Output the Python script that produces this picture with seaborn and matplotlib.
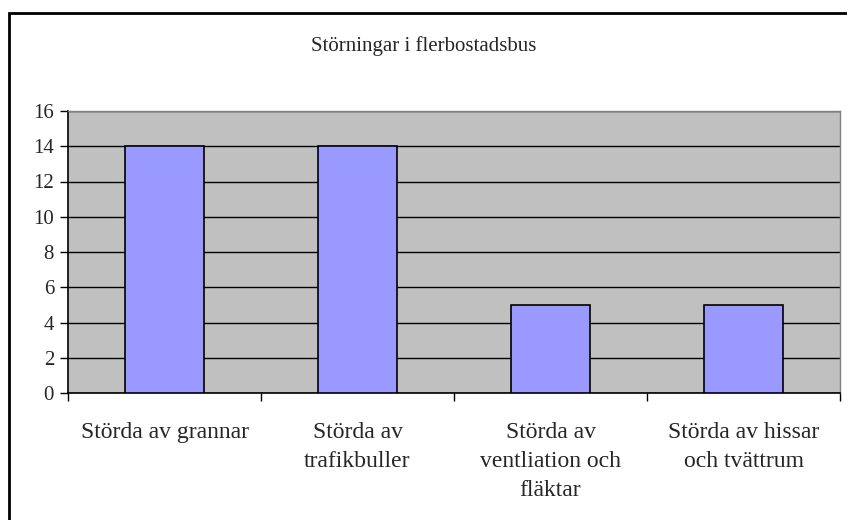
#!/usr/bin/env python3
import numpy as np
import pandas as pd
import seaborn as sns
import matplotlib.pyplot as plt
from matplotlib.patches import Rectangle

# chart data
title = 'Störningar i flerbostadsbus'
categories = [
  'Störda av grannar',
  'Störda av\ntrafikbuller',
  'Störda av\nventliation och\nfläktar',
  'Störda av hissar\noch tvättrum',
]
values = [14, 14, 5, 5]
yticks = [0, 2, 4, 6, 8, 10, 12, 14, 16]

sns.set_theme(style='white')
plt.rcParams['font.family'] = ['Liberation Serif', 'DejaVu Serif']
plt.rcParams['font.size'] = 15

fig = plt.figure(figsize=(8.47, 5.2), dpi=100)
ax = fig.add_axes([68 / 847, 1 - 393 / 520, (840 - 68) / 847, (393 - 111) / 520])

df = pd.DataFrame({'cat': categories, 'val': values})
sns.barplot(data=df, x='cat', y='val', ax=ax, color='#9999FF',
            saturation=1, edgecolor='black', linewidth=1.2, width=0.41, zorder=3)

ax.set_facecolor('#C0C0C0')
ax.set_ylim(0, 16)
ax.set_xlim(-0.5, len(categories) - 0.5)
ax.set_yticks(yticks)
ax.set_yticklabels([str(t) for t in yticks], fontsize=15)
ax.yaxis.grid(True, color='black', linewidth=1)
ax.set_axisbelow(True)
ax.set_xlabel('')
ax.set_ylabel('')

# category labels centred, ticks on the boundaries
ax.set_xticks(np.arange(len(categories)))
ax.set_xticklabels(categories, fontsize=17, linespacing=1.49, va='top')
ax.tick_params(axis='x', which='major', length=0, pad=21)
ax.set_xticks(np.arange(len(categories) + 1) - 0.5, minor=True)
ax.tick_params(axis='x', which='minor', length=6, width=1, color='black', direction='out', bottom=True)
ax.tick_params(axis='y', length=6, width=1, color='black', direction='out', left=True, pad=4)

for side in ['left', 'bottom']:
  ax.spines[side].set_color('black')
  ax.spines[side].set_linewidth(1.2)
for side in ['top', 'right']:
  ax.spines[side].set_color('#808080')
  ax.spines[side].set_linewidth(1)

fig.text(0.5, 1 - 46 / 520, title, ha='center', va='center', fontsize=15)

# outer chart border (runs off the right and bottom edges)
fig.patches.append(Rectangle((8.5 / 847, -0.05), 1.0, 1 - 12.5 / 520 + 0.05,
                             transform=fig.transFigure, fill=False,
                             edgecolor='black', linewidth=2))

fig.savefig('out.png', dpi=100)
